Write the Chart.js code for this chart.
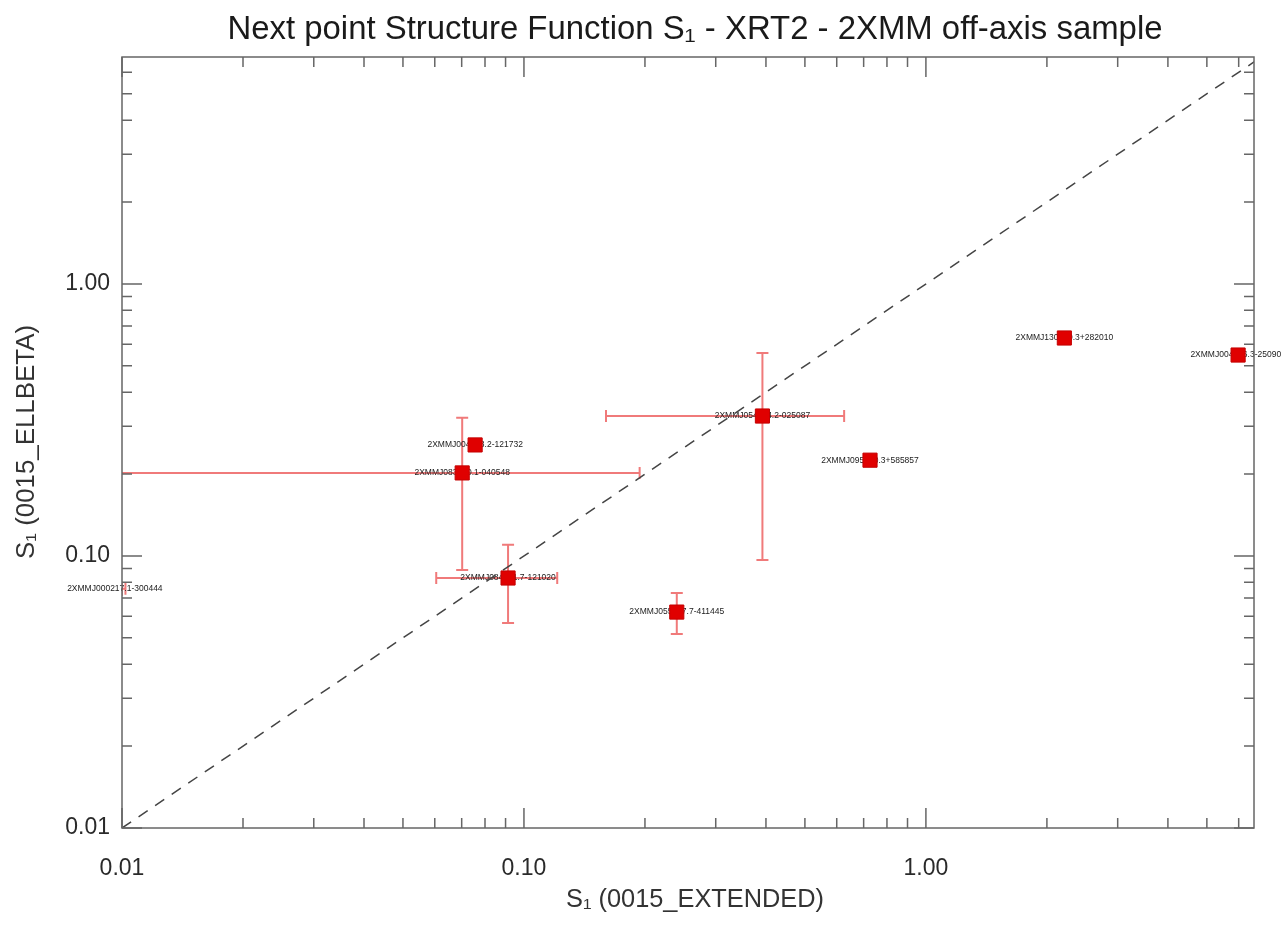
<!DOCTYPE html>
<html>
<head>
<meta charset="utf-8">
<title>Next point Structure Function S1 - XRT2 - 2XMM off-axis sample</title>
<script src="https://cdn.jsdelivr.net/npm/chart.js@4.4.1/dist/chart.umd.min.js"></script>
<style>
  body { margin: 0; background: #ffffff; }
  #wrap { width: 1281px; height: 925px; }
</style>
</head>
<body>
<div id="wrap"><canvas id="grafica" width="1281" height="925"></canvas></div>
<script>
// datos
const pointNames = ['2XMMJ000217.1-300444', '2XMMJ004728.2-121732', '2XMMJ083630.1-040548',
    '2XMMJ084051.7-121020', '2XMMJ055447.7-411445', '2XMMJ054014.2-025087',
    '2XMMJ095040.3+585857', '2XMMJ130950.3+282010', '2XMMJ004736.3-250900'];
const xVals  = [0.0096, 0.0756, 0.0702, 0.0913, 0.240, 0.392, 0.726, 2.21, 5.98];
const yVals  = [0.0757, 0.256, 0.202, 0.083, 0.0622, 0.327, 0.225, 0.633, 0.548];
const xLow   = [0.0085, null, 0.001, 0.0605, null, 0.160, null, null, null];
const xHigh  = [0.0102, null, 0.194, 0.121, null, 0.626, null, null, null];
const yLow   = [null, null, 0.0889, 0.0567, 0.0517, 0.0967, null, null, null];
const yHigh  = [null, null, 0.322, 0.110, 0.0731, 0.557, null, null, null];
const diagX  = [0.01, 7];
const diagY  = [0.01, 7];
const majorTicks = [0.01, 0.1, 1];
const tickLabels = ['0.01', '0.10', '1.00'];
const xMin = 0.01, xMax = 6.55, yMin = 0.01, yMax = 6.83;

const FONT = '"Liberation Sans", Arial, Helvetica, sans-serif';

// texto comprimido en horizontal hasta un ancho dado
function textoAjustado(ctx, txt, x, y, ancho, angulo) {
    const w = ctx.measureText(txt).width;
    ctx.save();
    ctx.translate(x, y);
    if (angulo) ctx.rotate(angulo);
    ctx.scale(ancho / w, 1);
    ctx.fillText(txt, 0, 0);
    ctx.restore();
}

// barras de error + etiquetas de cada punto
const errorBarPlugin = {
    id: 'errorBars',
    beforeDatasetsDraw(chart) {
        const ctx = chart.ctx, area = chart.chartArea;
        const xs = chart.scales.x, ys = chart.scales.y;
        const cap = 6;
        ctx.save();
        ctx.beginPath();
        ctx.rect(area.left, area.top, area.right - area.left, area.bottom - area.top);
        ctx.clip();
        ctx.strokeStyle = '#f07a7a';
        ctx.lineWidth = 2;
        xVals.forEach((xv, i) => {
            const px = xs.getPixelForValue(xv), py = ys.getPixelForValue(yVals[i]);
            if (xLow[i] !== null) {
                const a = xs.getPixelForValue(xLow[i]), b = xs.getPixelForValue(xHigh[i]);
                ctx.beginPath();
                ctx.moveTo(a, py); ctx.lineTo(b, py);
                ctx.moveTo(a, py - cap); ctx.lineTo(a, py + cap);
                ctx.moveTo(b, py - cap); ctx.lineTo(b, py + cap);
                ctx.stroke();
            }
            if (yLow[i] !== null) {
                const a = ys.getPixelForValue(yLow[i]), b = ys.getPixelForValue(yHigh[i]);
                ctx.beginPath();
                ctx.moveTo(px, a); ctx.lineTo(px, b);
                ctx.moveTo(px - cap, a); ctx.lineTo(px + cap, a);
                ctx.moveTo(px - cap, b); ctx.lineTo(px + cap, b);
                ctx.stroke();
            }
        });
        ctx.restore();

        // etiquetas (sin recorte, la ultima sale del area)
        ctx.save();
        ctx.fillStyle = '#222';
        ctx.font = '8.5px ' + FONT;
        ctx.textAlign = 'center';
        ctx.textBaseline = 'middle';
        xVals.forEach((xv, i) => {
            ctx.fillText(pointNames[i], xs.getPixelForValue(xv), ys.getPixelForValue(yVals[i]));
        });
        ctx.restore();
    }
};

// marco, ticks hacia dentro y textos
const framePlugin = {
    id: 'frame',
    afterDraw(chart) {
        const ctx = chart.ctx, a = chart.chartArea;
        const xs = chart.scales.x, ys = chart.scales.y;
        ctx.save();
        ctx.strokeStyle = '#666';
        ctx.lineWidth = 1.5;
        ctx.strokeRect(a.left, a.top, a.right - a.left, a.bottom - a.top);

        const drawTicks = (scale, min, max, horizontal) => {
            for (let e = -2; e <= 1; e++) {
                for (let m = 1; m <= 9; m++) {
                    const v = m * Math.pow(10, e);
                    if (v < min * 0.999 || v > max) continue;
                    const len = m === 1 ? 20 : 10;
                    const p = scale.getPixelForValue(v);
                    ctx.beginPath();
                    if (horizontal) {
                        ctx.moveTo(p, a.bottom); ctx.lineTo(p, a.bottom - len);
                        ctx.moveTo(p, a.top); ctx.lineTo(p, a.top + len);
                    } else {
                        ctx.moveTo(a.left, p); ctx.lineTo(a.left + len, p);
                        ctx.moveTo(a.right, p); ctx.lineTo(a.right - len, p);
                    }
                    ctx.stroke();
                }
            }
        };
        drawTicks(xs, xMin, xMax, true);
        drawTicks(ys, yMin, yMax, false);

        // titulo
        ctx.fillStyle = '#1a1a1a';
        ctx.textBaseline = 'middle';
        ctx.textAlign = 'center';
        ctx.font = '33px ' + FONT;
        textoAjustado(ctx, 'Next point Structure Function S\u2081 - XRT2 - 2XMM off-axis sample', 695, 30, 935);

        // titulos de ejes
        ctx.fillStyle = '#333';
        ctx.font = '26px ' + FONT;
        textoAjustado(ctx, 'S\u2081 (0015_EXTENDED)', 695, 900, 258);
        textoAjustado(ctx, 'S\u2081 (0015_ELLBETA)', 27, 442, 234, -Math.PI / 2);
        ctx.restore();
    }
};

function etiquetaTick(value) {
    for (let i = 0; i < majorTicks.length; i++) {
        if (Math.abs(value - majorTicks[i]) < majorTicks[i] * 1e-6) return tickLabels[i];
    }
    return '';
}

new Chart(document.getElementById('grafica').getContext('2d'), {
    type: 'scatter',
    data: {
        datasets: [
            {
                type: 'line',
                data: diagX.map((x, i) => ({ x: x, y: diagY[i] })),
                borderColor: '#444',
                borderWidth: 1.5,
                borderDash: [11, 9],
                pointRadius: 0,
                fill: false
            },
            {
                data: xVals.map((x, i) => ({ x: x, y: yVals[i] })),
                pointStyle: 'rect',
                pointRadius: 10,
                backgroundColor: '#e00000',
                borderColor: '#c40000',
                borderWidth: 1
            }
        ]
    },
    options: {
        responsive: false,
        animation: false,
        layout: { padding: { top: 57, right: 24, left: 0, bottom: 0 } },
        plugins: {
            legend: { display: false },
            title: { display: false },
            tooltip: { enabled: false }
        },
        scales: {
            x: {
                type: 'logarithmic',
                min: xMin,
                max: xMax,
                grid: { display: false, drawTicks: false },
                border: { display: false },
                ticks: {
                    autoSkip: false,
                    maxRotation: 0,
                    padding: 27,
                    color: '#2a2a2a',
                    font: { family: FONT, size: 23 },
                    callback: etiquetaTick
                },
                afterFit(scale) { scale.height = 97; }
            },
            y: {
                type: 'logarithmic',
                min: yMin,
                max: yMax,
                grid: { display: false, drawTicks: false },
                border: { display: false },
                ticks: {
                    autoSkip: false,
                    padding: 12,
                    color: '#2a2a2a',
                    font: { family: FONT, size: 23 },
                    callback: etiquetaTick
                },
                afterFit(scale) { scale.width = 122; }
            }
        }
    },
    plugins: [errorBarPlugin, framePlugin]
});
</script>
</body>
</html>
